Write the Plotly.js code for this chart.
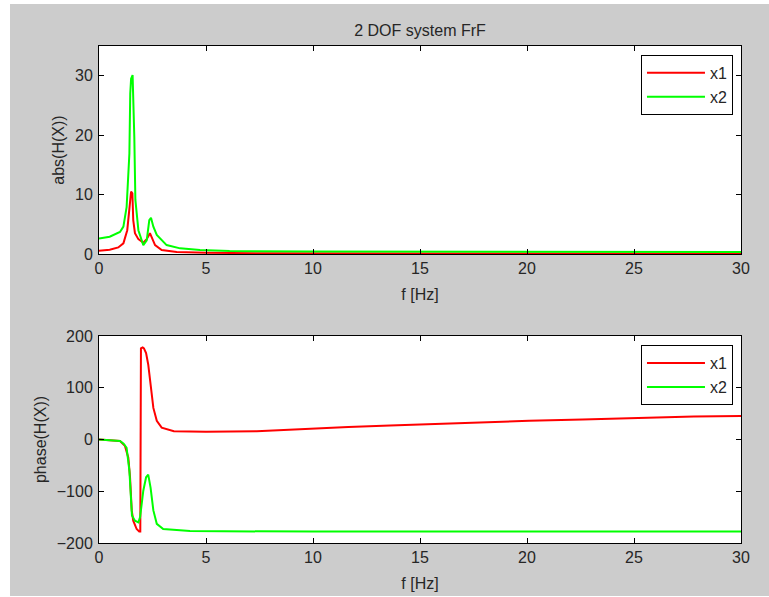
<!DOCTYPE html>
<html>
<head>
<meta charset="utf-8">
<script src="https://cdn.plot.ly/plotly-3.0.1.min.js"></script>
<style>
  html, body { margin: 0; padding: 0; background: #ffffff; }
  #chart { position: absolute; left: 10px; top: 4px; width: 759px; height: 592px; }
</style>
</head>
<body>
<div id="chart"></div>
<script>
// ---- Data ----
const titleText = '2 DOF system FrF';
const seriesNames = ['x1', 'x2'];

// Magnitude |H| of x1
const fAbsX1 = [0, 0.5, 0.9, 1.14, 1.32, 1.42, 1.5, 1.56, 1.6, 1.68, 1.84, 2.07, 2.23, 2.38, 2.46, 2.62, 2.93, 3.63, 5, 8, 15, 30];
const absX1  = [0.55, 0.7, 1.1, 1.8, 4.0, 7.9, 10.5, 10.2, 5.7, 3.5, 2.5, 1.9, 2.5, 3.5, 2.9, 1.5, 0.67, 0.34, 0.2, 0.12, 0.07, 0.05];

// Magnitude |H| of x2
const fAbsX2 = [0, 0.5, 0.98, 1.14, 1.29, 1.42, 1.46, 1.5, 1.57, 1.62, 1.65, 1.7, 1.84, 2.07, 2.23, 2.35, 2.43, 2.54, 2.7, 3.16, 3.79, 4.72, 6.1, 10, 20, 30];
const absX2  = [2.6, 2.9, 3.7, 4.6, 7.9, 16.9, 27, 29.5, 30.1, 25, 19.7, 9.1, 4.0, 1.5, 2.3, 5.7, 6.1, 4.6, 3.2, 1.5, 0.95, 0.67, 0.5, 0.4, 0.35, 0.33];

// Phase of x1 (deg)
const fPhX1 = [0, 0.5, 0.98, 1.21, 1.37, 1.45, 1.53, 1.6, 1.76, 1.88, 1.93, 1.96, 2.04, 2.1, 2.2, 2.3, 2.41, 2.54, 2.7, 2.93, 3.5, 5, 7.37, 8.46, 9.55, 11.65, 13.6, 15.7, 17.9, 20.1, 22.6, 25.1, 27.8, 30];
const phX1  = [0, -1, -3, -12, -35, -73, -137, -157, -173, -178, -178, 176, 178, 176, 167, 145, 106, 61, 36, 23, 16, 15, 16, 17.7, 20.8, 24, 27.2, 30.4, 33, 36, 38.8, 42, 44.6, 45.5];

// Phase of x2 (deg)
const fPhX2 = [0, 0.5, 0.98, 1.15, 1.29, 1.42, 1.48, 1.54, 1.68, 1.84, 1.92, 2.0, 2.07, 2.2, 2.3, 2.41, 2.54, 2.7, 3.0, 3.63, 4.25, 10, 20, 30];
const phX2  = [0, -1, -3, -8, -16, -60, -112, -147, -157, -160, -150, -125, -99, -73, -68, -93, -137, -163, -173, -175, -177, -178, -178, -178];

const xTicks = [0, 5, 10, 15, 20, 25, 30];
const yTicksAbs = [0, 10, 20, 30];
const yTicksPh = [-200, -100, 0, 100, 200];

// ---- Styling ----
const RED = '#ff0000', GREEN = '#00ff00';
const FONT = { family: 'Liberation Sans, Arial, sans-serif', size: 16, color: '#262626' };
const LEGFONT = { family: 'Liberation Sans, Arial, sans-serif', size: 16, color: '#262626' };

const traces = [
  { x: fAbsX1, y: absX1, name: seriesNames[0], xaxis: 'x', yaxis: 'y', legend: 'legend',
    mode: 'lines', line: { color: RED, width: 2 } },
  { x: fAbsX2, y: absX2, name: seriesNames[1], xaxis: 'x', yaxis: 'y', legend: 'legend',
    mode: 'lines', line: { color: GREEN, width: 2 } },
  { x: fPhX1, y: phX1, name: seriesNames[0], xaxis: 'x2', yaxis: 'y2', legend: 'legend2',
    mode: 'lines', line: { color: RED, width: 2 } },
  { x: fPhX2, y: phX2, name: seriesNames[1], xaxis: 'x2', yaxis: 'y2', legend: 'legend2',
    mode: 'lines', line: { color: GREEN, width: 2 } }
];

function xAxis(anchor) {
  return {
    anchor: anchor, domain: [0, 1], range: [0, 30], tickvals: xTicks,
    ticks: 'inside', ticklen: 5, tickcolor: '#000', showline: true, linecolor: '#000', linewidth: 1,
    mirror: 'ticks', showgrid: false, zeroline: false, tickfont: FONT,
    title: { text: 'f [Hz]', font: FONT, standoff: 12 }
  };
}
function yAxis(anchor, domain, range, tickvals, title) {
  return {
    anchor: anchor, domain: domain, range: range, tickvals: tickvals,
    ticks: 'inside', ticklen: 5, tickcolor: '#000', showline: true, linecolor: '#000', linewidth: 1,
    mirror: 'ticks', showgrid: false, zeroline: false, tickfont: FONT, ticklabelstandoff: 2,
    title: { text: title, font: FONT, standoff: 6 }
  };
}
function legendBox(y) {
  return {
    x: 0.9875, xanchor: 'right', y: y, yanchor: 'top', xref: 'paper', yref: 'paper',
    bgcolor: '#ffffff', bordercolor: '#000', borderwidth: 1, font: LEGFONT,
    itemwidth: 58, tracegroupgap: 0, entrywidth: 34, entrywidthmode: 'pixels'
  };
}

const layout = {
  width: 759, height: 592,
  paper_bgcolor: '#cccccc', plot_bgcolor: '#ffffff',
  margin: { l: 89, r: 28, t: 42, b: 53 },
  font: FONT,
  showlegend: true,
  title: { text: titleText, font: FONT, x: 0.5, xref: 'paper', y: 1 - 26 / 592, yref: 'container', yanchor: 'middle' },
  xaxis: xAxis('y'),
  yaxis: yAxis('x', [0.5815, 1], [0, 35], yTicksAbs, 'abs(H(X))'),
  xaxis2: xAxis('y2'),
  yaxis2: yAxis('x2', [0, 0.4165], [-200, 200], yTicksPh, 'phase(H(X))'),
  legend: legendBox(0.982),
  legend2: legendBox(0.398)
};

Plotly.newPlot('chart', traces, layout, { displayModeBar: false, staticPlot: true });
</script>
</body>
</html>
